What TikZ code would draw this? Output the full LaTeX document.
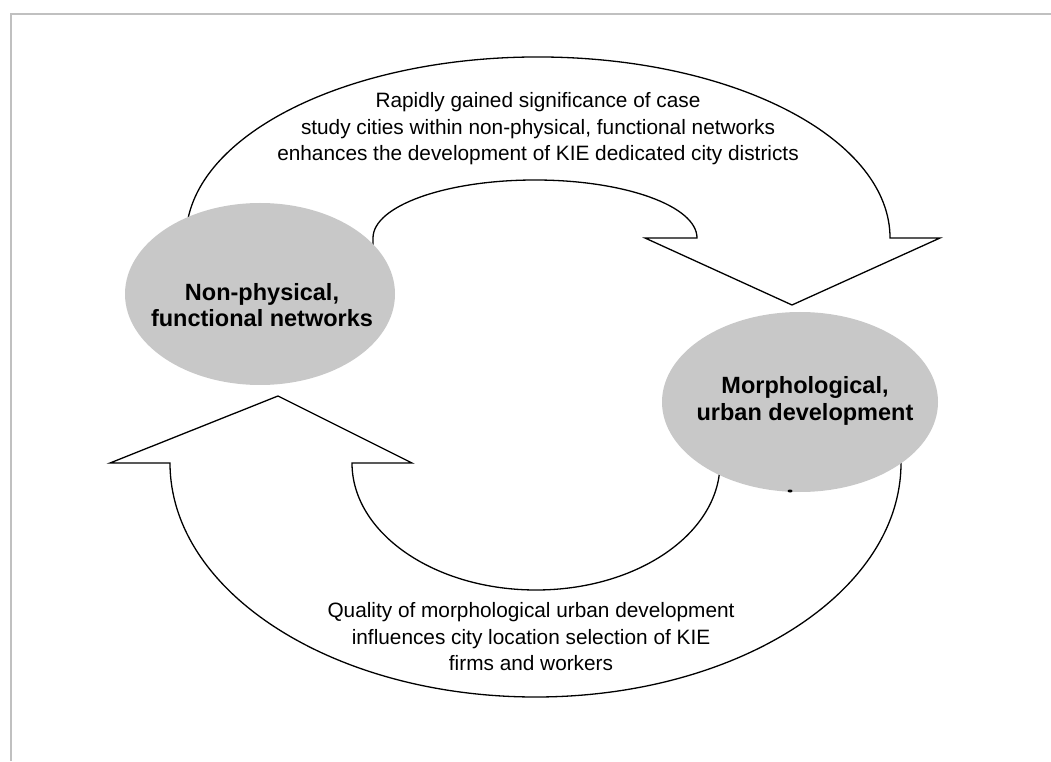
\documentclass[tikz,border=0pt]{standalone}
\usepackage{fontspec}
\setmainfont{Liberation Sans}
\usetikzlibrary{shapes.geometric}
\definecolor{ellgray}{RGB}{200,200,200}
\definecolor{framegray}{RGB}{192,192,192}
\begin{document}
\begin{tikzpicture}[x=1pt,y=1pt,
  arrowline/.style={draw=black,line width=1.3pt,line join=miter},
  blob/.style={ellipse,fill=ellgray,draw=none,inner sep=0pt},
  blobtext/.style={align=center,inner sep=0pt,font=\fontsize{23.5}{26.5}\selectfont\bfseries},
  note/.style={align=center,inner sep=0pt,font=\fontsize{20.8}{26.5}\selectfont},
  framerule/.style={draw=framegray,line width=2pt}]
\useasboundingbox (0,0) rectangle (1051,761);
% frame
\draw[framerule] (11,0) -- (11,747) -- (1051,747);
% top arrow
\draw[arrowline] (186.5,532.5) arc[start angle=177,end angle=0,x radius=352,y radius=181]
  -- (940,523) -- (792,456) -- (645,523) -- (697,523)
  arc[start angle=0,end angle=180,x radius=162,y radius=58] -- ++(0,-12);
% bottom arrow
\draw[arrowline] (901,311) -- (901,298)
  arc[start angle=0,end angle=-180,x radius=365.5,y radius=234]
  -- (110,298) -- (278,365) -- (412,298) -- (352,298)
  arc[start angle=180,end angle=360,x radius=184,y radius=127];
% ellipses
\node[blob,minimum width=270pt,minimum height=182pt] (nonphys) at (260,467) {};
\node[blob,minimum width=276pt,minimum height=180pt] (morph) at (800,359) {};
\node[blobtext] (nonphystext) at (262,456) {Non-physical,\\functional networks};
\node[blobtext] (morphtext) at (805,360) {Morphological,\\urban development};
\fill (790,270) ellipse [x radius=2.5,y radius=1.5];
% texts
\node[note] (toptext) at (538,632) {Rapidly gained significance of case\\study cities within non-physical, functional networks\\enhances the development of KIE dedicated city districts};
\node[note] (bottext) at (531,124) {Quality of morphological urban development\\influences city location selection of KIE\\firms and workers};
\end{tikzpicture}
\end{document}
